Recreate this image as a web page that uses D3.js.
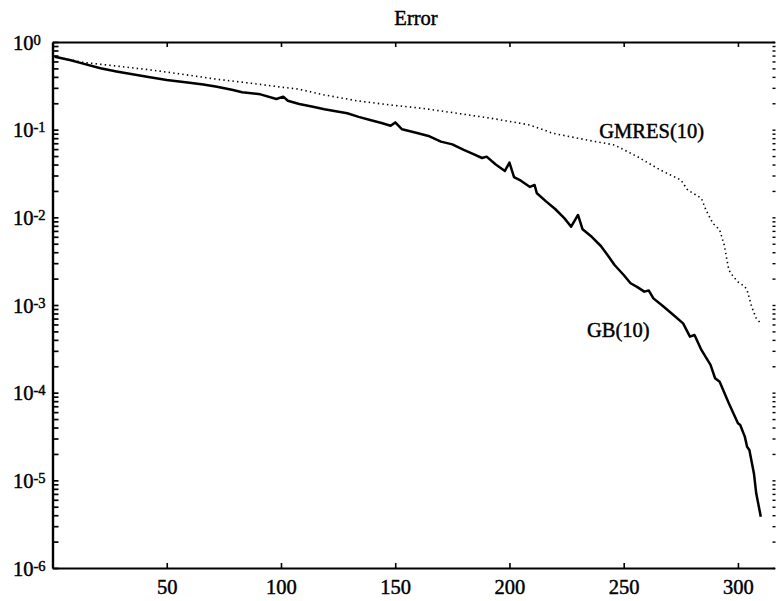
<!DOCTYPE html>
<html>
<head>
<meta charset="utf-8">
<script src="https://cdn.jsdelivr.net/npm/d3@7/dist/d3.min.js"></script>
<style>
  html, body { margin: 0; padding: 0; background: #fff; }
  svg { display: block; }
  text { font-family: "Liberation Serif", "DejaVu Serif", serif; fill: #000; stroke: #000; stroke-width: 0.45px; }
</style>
</head>
<body>
<div id="chart"></div>
<script>
// ---- Data ----
const title = "Error";
const xTicks = [50, 100, 150, 200, 250, 300];
const yDecades = [1e-6, 1e-5, 1e-4, 1e-3, 1e-2, 1e-1, 1e0];
const yExponents = ["-6", "-5", "-4", "-3", "-2", "-1", "0"];

const gbName = "GB(10)";
const gbIter = [1, 8, 13, 21, 28, 35, 42, 50, 60, 66, 72, 79, 83, 91, 98, 101, 103, 108, 114, 119, 124, 129, 134, 139, 144, 148, 150, 153, 160,
  165, 170, 175, 180, 184, 188, 190, 194, 198, 200, 202, 205, 209, 211, 212, 216, 220, 224, 227, 230, 232, 236, 240, 243, 246, 250, 253, 256, 259, 261, 263,
  267, 271, 276, 279, 281, 284, 288, 290, 292, 296, 300, 301, 303, 304, 305, 307, 308, 310];
const gbError = [0.68, 0.62, 0.571, 0.501, 0.462, 0.428, 0.398, 0.369, 0.343, 0.327, 0.309, 0.283, 0.267, 0.253, 0.224, 0.238, 0.214, 0.196,
  0.183, 0.171, 0.162, 0.154, 0.140, 0.129, 0.119, 0.111, 0.121, 0.101, 0.091, 0.084, 0.073, 0.068, 0.0587, 0.0530, 0.0475, 0.0492, 0.0400, 0.0338, 0.0422, 0.0288,
  0.0262, 0.0222, 0.0234, 0.0188, 0.0152, 0.01245, 0.0098, 0.00782, 0.01064, 0.00731, 0.0060, 0.00471, 0.0037, 0.00286, 0.0022, 0.00177, 0.00160, 0.00142, 0.00146,
  0.00119, 0.00098, 0.00080, 0.000618, 0.000435, 0.000455, 0.000307, 0.000207, 0.000146, 0.000133, 7.57e-5, 4.48e-5, 4.28e-5,
  3.15e-5, 2.42e-5, 2.22e-5, 1.20e-5, 7.11e-6, 3.85e-6];

const gmresName = "GMRES(10)";
const gmresIter = [1, 13, 28, 43, 57, 72, 87, 101, 108, 119, 133, 148, 162, 177, 192, 209, 219, 234, 246,
  256, 266, 275, 278, 284, 286, 289, 292, 294, 296, 298, 300, 303, 304, 306, 308, 310];
const gmresError = [0.68, 0.587, 0.532, 0.48, 0.428, 0.376, 0.338, 0.304, 0.289, 0.249, 0.214, 0.191, 0.175,
  0.154, 0.135, 0.113, 0.0909, 0.0762, 0.0668, 0.0492, 0.0347, 0.0267, 0.0205, 0.0165, 0.0121, 0.00855,
  0.00718, 0.00483, 0.00251, 0.0021, 0.00184, 0.00162, 0.00148, 0.000957, 0.000705, 0.000618];

// ---- Layout ----
const W = 777, H = 601;
const mLeft = 52.5, mRight = 774.5, mTop = 42, mBottom = 568;

const svg = d3.select("#chart").append("svg").attr("width", W).attr("height", H);

const x = d3.scaleLinear().domain([0, 316]).range([mLeft, mRight]);
const y = d3.scaleLog().domain([1e-6, 1]).range([mBottom, mTop]);

// minor + major tick values for log axis
const yAll = [];
for (let e = -6; e <= 0; e++) {
  for (let m = 1; m <= 9; m++) {
    const v = m * Math.pow(10, e);
    if (v <= 1.0000001) yAll.push(v);
  }
}

// Left axis (ticks pointing inward)
const gl = svg.append("g").attr("transform", `translate(${mLeft},0)`)
  .call(d3.axisRight(y).tickValues(yAll).tickFormat("").tickSizeInner(6).tickSizeOuter(0));
gl.select(".domain").attr("stroke-width", 2.4);
gl.selectAll(".tick line").attr("stroke-width", 1.7);

// Right axis ticks only
const gr = svg.append("g").attr("transform", `translate(${mRight + 1},0)`)
  .call(d3.axisLeft(y).tickValues(yAll).tickFormat("").tickSizeInner(3).tickSizeOuter(0));
gr.select(".domain").remove();
gr.selectAll(".tick line").attr("stroke-width", 1.4);

// Bottom axis
const gbx = svg.append("g").attr("transform", `translate(0,${mBottom})`)
  .call(d3.axisBottom(x).tickValues(xTicks).tickSizeInner(-5).tickSizeOuter(0).tickPadding(11));
gbx.select(".domain").attr("stroke-width", 1.8);
gbx.selectAll(".tick line").attr("stroke-width", 1.6);
gbx.selectAll(".tick text").attr("font-size", 20.5)
  .style("font-family", '"Liberation Serif", serif');

// Top axis
const gtx = svg.append("g").attr("transform", `translate(0,${mTop})`)
  .call(d3.axisTop(x).tickValues(xTicks).tickFormat("").tickSizeInner(-5).tickSizeOuter(0));
gtx.select(".domain").attr("stroke-width", 1.8);
gtx.selectAll(".tick line").attr("stroke-width", 1.6);

// Y labels: 10 with superscript exponent
const yl = svg.append("g");
yDecades.forEach((v, i) => {
  const t = yl.append("text")
    .attr("x", 13)
    .attr("y", y(v) + 7.5)
    .attr("font-size", 20.5);
  t.append("tspan").text("10");
  t.append("tspan").attr("font-size", 14.5).attr("dy", -5).text(yExponents[i]);
});

// Title
svg.append("text").attr("x", 416).attr("y", 25).attr("text-anchor", "middle")
  .attr("font-size", 20.5).text(title);

// Lines
const line = d3.line().x(d => x(d[0])).y(d => y(d[1]));
const gmresData = gmresIter.map((v, i) => [v, gmresError[i]]);
const gbData = gbIter.map((v, i) => [v, gbError[i]]);

svg.append("path").datum(gmresData).attr("d", line)
  .attr("fill", "none").attr("stroke", "#000").attr("stroke-width", 1.6)
  .attr("stroke-dasharray", "1.4,3.2");

svg.append("path").datum(gbData).attr("d", line)
  .attr("fill", "none").attr("stroke", "#000").attr("stroke-width", 2.5)
  .attr("stroke-linejoin", "round");

// Series labels
svg.append("text").attr("x", x(239.3)).attr("y", y(0.0804)).attr("font-size", 20.5).text(gmresName);
svg.append("text").attr("x", x(233.9)).attr("y", y(4.31e-4)).attr("font-size", 20.5).text(gbName);
</script>
</body>
</html>
